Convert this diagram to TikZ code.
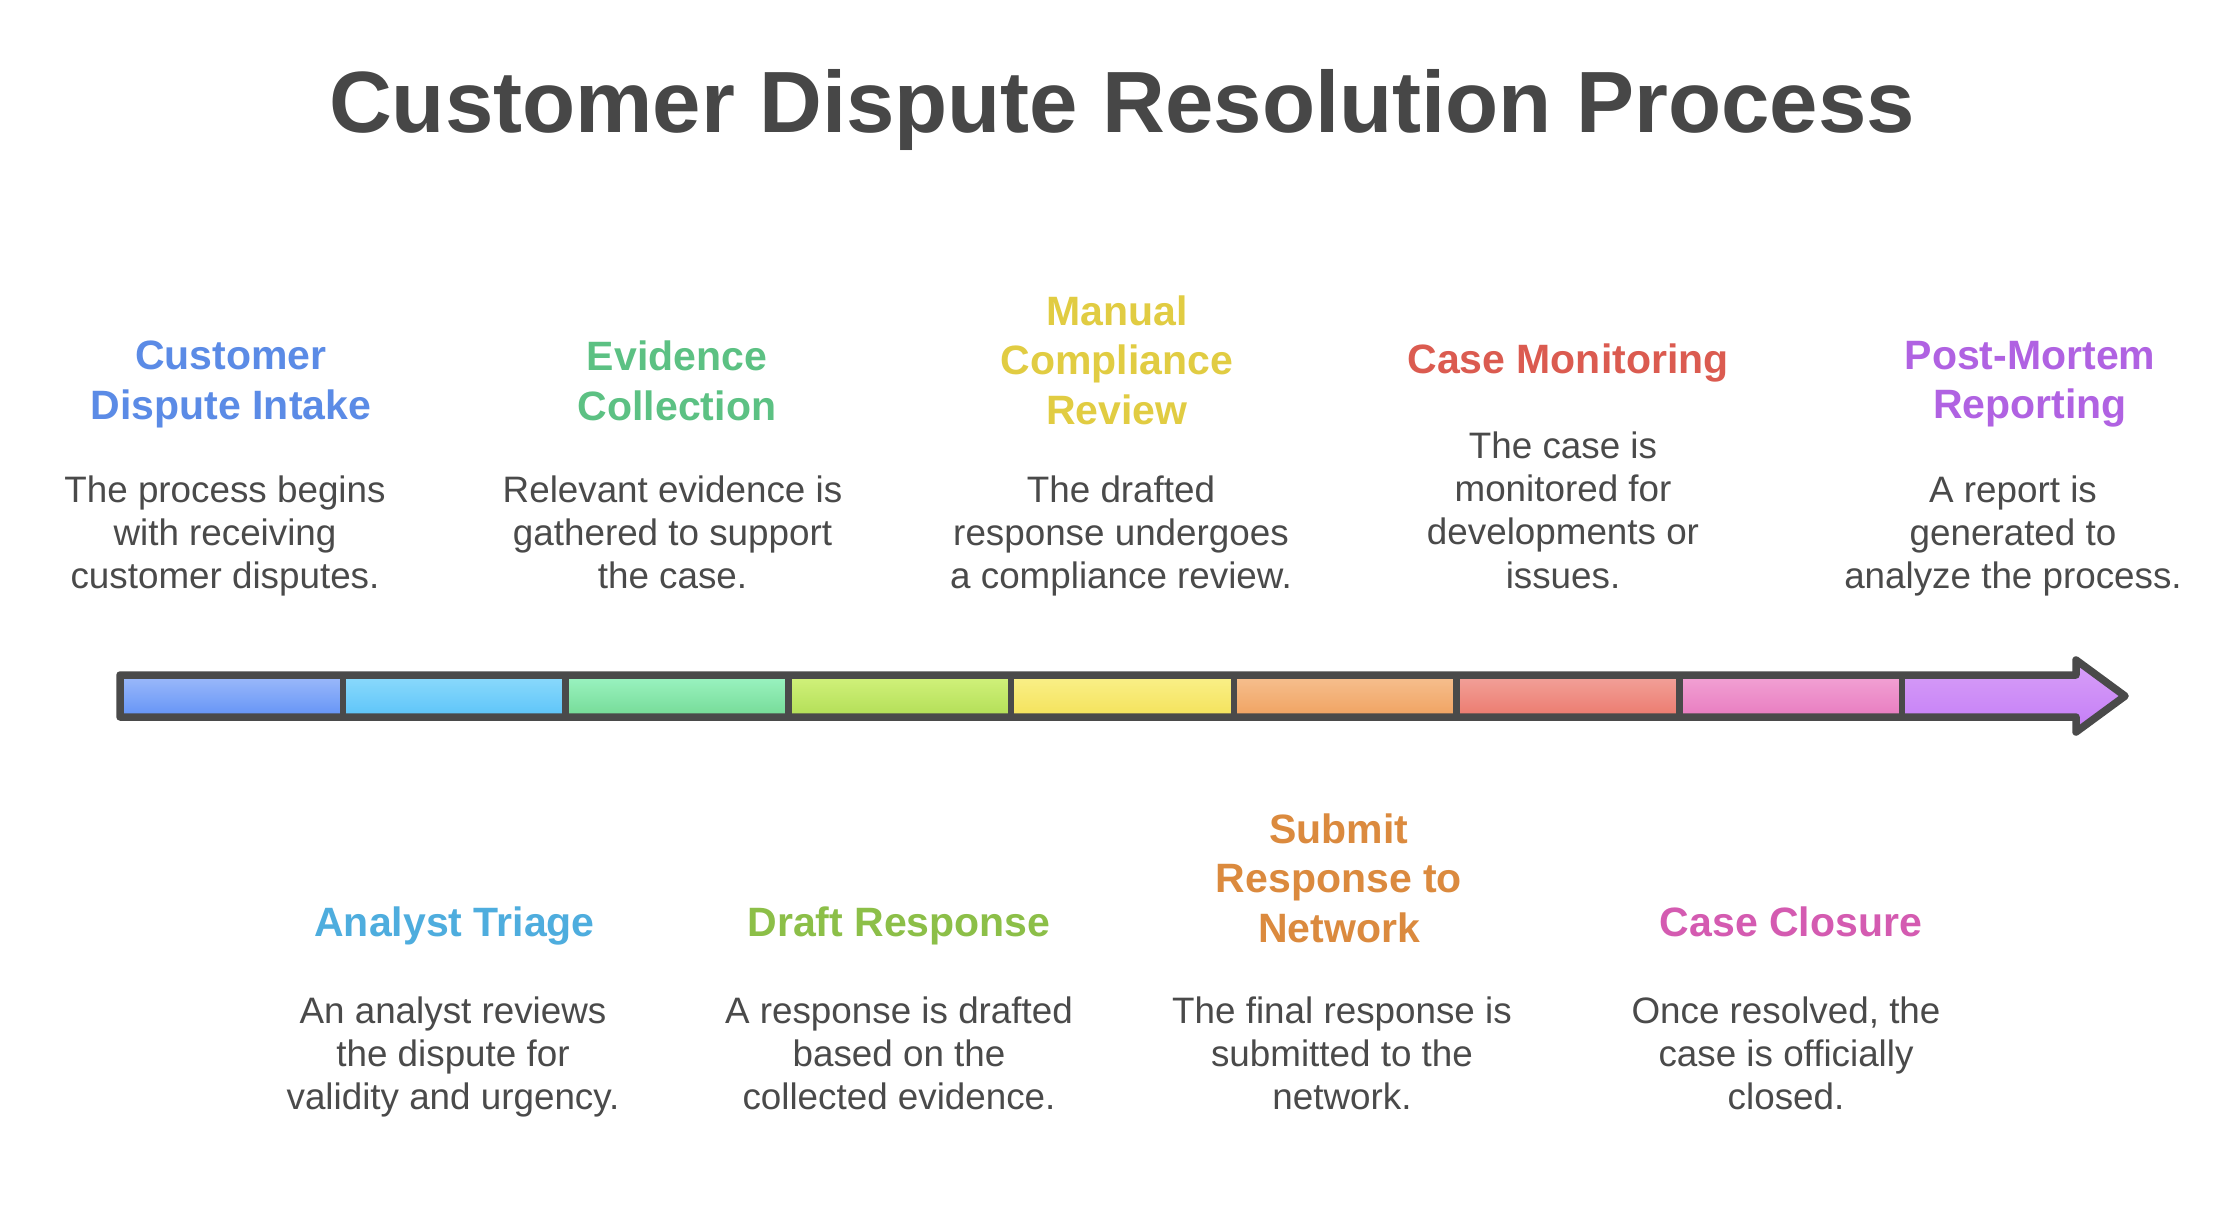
\documentclass[tikz,border=0pt]{standalone}
\usepackage{fontspec}
\setmainfont{Liberation Sans}
\definecolor{frame}{HTML}{4A4A4A}
\definecolor{desc}{HTML}{4A4A4A}
\definecolor{ttlc}{HTML}{474747}
\definecolor{c1}{HTML}{5B8BE6}
\definecolor{c2}{HTML}{4EADDE}
\definecolor{c3}{HTML}{5CC183}
\definecolor{c4}{HTML}{8CBF48}
\definecolor{c5}{HTML}{E1CC42}
\definecolor{c6}{HTML}{DB8A3E}
\definecolor{c7}{HTML}{DB5B50}
\definecolor{c8}{HTML}{D45BB1}
\definecolor{c9}{HTML}{B062E2}
\definecolor{s1t}{HTML}{9DBAFA}\definecolor{s1b}{HTML}{6393F6}
\definecolor{s2t}{HTML}{8CDAFB}\definecolor{s2b}{HTML}{5CC4F9}
\definecolor{s3t}{HTML}{9CF4C2}\definecolor{s3b}{HTML}{74DA96}
\definecolor{s4t}{HTML}{D2F27C}\definecolor{s4b}{HTML}{B2DE56}
\definecolor{s5t}{HTML}{FAF08A}\definecolor{s5b}{HTML}{F4E25A}
\definecolor{s6t}{HTML}{F6C090}\definecolor{s6b}{HTML}{F0A260}
\definecolor{s7t}{HTML}{F2A29A}\definecolor{s7b}{HTML}{EC7A6E}
\definecolor{s8t}{HTML}{F2A2D4}\definecolor{s8b}{HTML}{E87CC0}
\definecolor{s9t}{HTML}{D8A0F8}\definecolor{s9b}{HTML}{C47CF6}
\begin{document}
\begin{tikzpicture}[x=1pt,y=-1pt,
  ttl/.style={anchor=north, inner sep=0pt, align=center, font=\bfseries\fontsize{41}{49.5}\selectfont},
  dsc/.style={anchor=north, inner sep=0pt, align=center, text=desc, font=\fontsize{36.8}{43.3}\selectfont},
  outline/.style={draw=frame, line width=7.5pt, line join=round},
  divider/.style={draw=frame, line width=6.5pt}]
\path[use as bounding box, fill=white] (0,0) rectangle (2234,1224);
% title
\node[anchor=base, inner sep=0pt, text=ttlc, font=\bfseries\fontsize{87}{100}\selectfont] (title) at (1122,132) {Customer Dispute Resolution Process};
% bar segments
\fill[top color=s1t, bottom color=s1b] (120,675) rectangle (342.75,717);
\fill[top color=s2t, bottom color=s2b] (342.75,675) rectangle (565.5,717);
\fill[top color=s3t, bottom color=s3b] (565.5,675) rectangle (788.25,717);
\fill[top color=s4t, bottom color=s4b] (788.25,675) rectangle (1011,717);
\fill[top color=s5t, bottom color=s5b] (1011,675) rectangle (1233.75,717);
\fill[top color=s6t, bottom color=s6b] (1233.75,675) rectangle (1456.5,717);
\fill[top color=s7t, bottom color=s7b] (1456.5,675) rectangle (1679.25,717);
\fill[top color=s8t, bottom color=s8b] (1679.25,675) rectangle (1902,717);
\fill[top color=s9t, bottom color=s9b] (1902,675) -- (2076,675) -- (2076,660) -- (2125,696) -- (2076,732) -- (2076,717) -- (1902,717) -- cycle;
\draw[outline] (120,675) -- (2076,675) -- (2076,660) -- (2125,696) -- (2076,732) -- (2076,717) -- (120,717) -- cycle;
\foreach \xx in {342.75,565.5,788.25,1011,1233.75,1456.5,1679.25,1902} {
  \draw[divider] (\xx,675) -- (\xx,717);
}
% top blocks
\node[ttl, text=c1] (t1) at (231,341) {Customer\\Dispute Intake};
\node[dsc] (d1) at (225,475.5) {The process begins\\with receiving\\customer disputes.};
\node[ttl, text=c3] (t3) at (677,341) {Evidence\\Collection};
\node[dsc] (d3) at (672.5,475.5) {Relevant evidence is\\gathered to support\\the case.};
\node[ttl, text=c5] (t5) at (1117,295.5) {Manual\\Compliance\\Review};
\node[dsc] (d5) at (1121,475.5) {The drafted\\response undergoes\\a compliance review.};
\node[ttl, text=c7] (t7) at (1568,343.5) {Case Monitoring};
\node[dsc] (d7) at (1563,431.5) {The case is\\monitored for\\developments or\\issues.};
\node[ttl, text=c9] (t9) at (2030,341) {Post-Mortem\\Reporting};
\node[dsc] (d9) at (2013,475.5) {A report is\\generated to\\analyze the process.};
% bottom blocks
\node[ttl, text=c2] (t2) at (454.5,906.5) {Analyst Triage};
\node[dsc] (d2) at (453,996.5) {An analyst reviews\\the dispute for\\validity and urgency.};
\node[ttl, text=c4] (t4) at (899,906.5) {Draft Response};
\node[dsc] (d4) at (899,996.5) {A response is drafted\\based on the\\collected evidence.};
\node[ttl, text=c6] (t6) at (1339,813.5) {Submit\\Response to\\Network};
\node[dsc] (d6) at (1342,996.5) {The final response is\\submitted to the\\network.};
\node[ttl, text=c8] (t8) at (1791,906.5) {Case Closure};
\node[dsc] (d8) at (1786,996.5) {Once resolved, the\\case is officially\\closed.};
\end{tikzpicture}
\end{document}
